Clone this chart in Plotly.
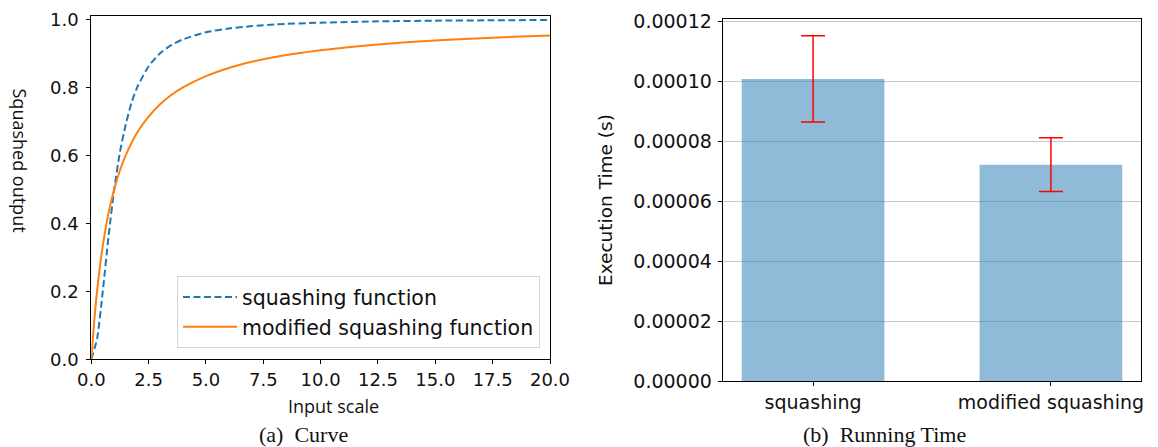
import plotly.graph_objects as go

# ---------------- data ----------------
# (a) Curve
blue_x = [0, 0.25, 0.5, 0.75, 1, 1.25, 1.5, 1.75, 2, 2.5, 3, 3.5, 4, 5, 6, 7, 8, 10, 12.5, 15, 17.5, 20]
blue_y = [0, 0.06, 0.2, 0.36, 0.5, 0.61, 0.69, 0.754, 0.8, 0.862, 0.9, 0.925, 0.941, 0.962, 0.973, 0.98, 0.985,
          0.99, 0.994, 0.996, 0.997, 0.998]
orange_x = [0, 0.1, 0.25, 0.5, 0.75, 1, 1.25, 1.5, 2, 2.5, 3, 3.5, 4, 5, 6, 7, 8, 10, 12.5, 15, 17.5, 20]
orange_y = [0, 0.09, 0.2, 0.333, 0.43, 0.5, 0.556, 0.6, 0.667, 0.714, 0.75, 0.778, 0.8, 0.833, 0.857, 0.875,
            0.889, 0.909, 0.926, 0.938, 0.946, 0.952]
series_names = ["squashing function", "modified squashing function"]
x_ticks = [0, 2.5, 5, 7.5, 10, 12.5, 15, 17.5, 20]
y_ticks_left = [0, 0.2, 0.4, 0.6, 0.8, 1.0]

# (b) Running Time
categories = ["squashing", "modified squashing"]
exec_time = [0.0001008, 0.0000722]
exec_err = [0.0000144, 0.0000090]
y_ticks_right = [0, 0.00002, 0.00004, 0.00006, 0.00008, 0.00010, 0.00012]

# ---------------- layout helpers ----------------
# the page has an 8px body margin, so the figure is placed at (8, 8) in the window
PAGE_W, PAGE_H = 1158, 447
OFF = 8
W, H = PAGE_W - OFF, PAGE_H - OFF


def px(x):
    return (x - OFF) / W


def py(y):
    return (PAGE_H - y) / H


fig = go.Figure()

fig.add_trace(go.Scatter(
    x=blue_x, y=blue_y, mode="lines", name=series_names[0],
    line=dict(color="#1f77b4", width=2, dash="7px,3.5px", shape="spline", smoothing=0.6),
    xaxis="x", yaxis="y"))
fig.add_trace(go.Scatter(
    x=orange_x, y=orange_y, mode="lines", name=series_names[1],
    line=dict(color="#ff7f0e", width=2, shape="spline", smoothing=0.6),
    xaxis="x", yaxis="y"))

fig.add_trace(go.Bar(
    x=[0, 1], y=exec_time, width=0.6,
    marker=dict(color="rgba(31,119,180,0.5)", line=dict(width=0)),
    error_y=dict(type="data", array=exec_err, color="red", thickness=1.5, width=12),
    showlegend=False, xaxis="x2", yaxis="y2"))

axis_common = dict(showline=True, linecolor="black", linewidth=1, mirror=True,
                   ticks="outside", ticklen=4, tickcolor="black", tickwidth=1,
                   zeroline=False, automargin=False)
tick_font = dict(family="DejaVu Sans", size=18, color="#111111")

fig.update_layout(
    template="none",
    width=W, height=H,
    margin=dict(l=0, r=0, t=0, b=0, autoexpand=False),
    paper_bgcolor="white", plot_bgcolor="white",
    showlegend=True,
    xaxis=dict(domain=[px(91.3), px(550)], range=[0, 20], tickvals=x_ticks,
               ticktext=[f"{v:.1f}" for v in x_ticks], showgrid=False,
               tickfont=tick_font, anchor="y", **axis_common),
    yaxis=dict(domain=[py(359.3), py(16)], range=[0, 1.0097], tickvals=y_ticks_left,
               ticktext=[f"{v:.1f}" for v in y_ticks_left], showgrid=False,
               tickfont=tick_font, anchor="x", ticklabelstandoff=4, **axis_common),
    xaxis2=dict(domain=[px(722.7), px(1141.3)], range=[-0.38, 1.38], tickvals=[0, 1],
                ticktext=categories, showgrid=False,
                tickfont=dict(family="DejaVu Sans", size=19, color="#111111"),
                anchor="y2", **axis_common),
    yaxis2=dict(domain=[py(381), py(19.3)], range=[0, 0.0001207], tickvals=y_ticks_right,
                ticktext=[f"{v:.5f}" for v in y_ticks_right], showgrid=True,
                gridcolor="#c8c8c8", gridwidth=1,
                tickfont=dict(family="DejaVu Sans", size=19, color="#111111"),
                anchor="x2", ticklabelstandoff=2, **axis_common),
    legend=dict(x=px(540), y=py(348.3), xanchor="right", yanchor="bottom",
                bgcolor="white", bordercolor="#d6d6d6", borderwidth=1,
                font=dict(family="DejaVu Sans", size=20.5, color="#111111"),
                itemwidth=54, tracegroupgap=0),
)

annotations = [
    dict(text="Input scale", x=px(333.6), y=py(406), font=dict(family="Open Sans", size=18, color="#111111"),
         textangle=0),
    dict(text="Squashed output", x=px(19.5), y=py(160), font=dict(family="Open Sans", size=18, color="#111111"),
         textangle=90),
    dict(text="Execution Time (s)", x=px(605), y=py(200), font=dict(family="DejaVu Sans", size=18.5, color="#111111"),
         textangle=-90),
    dict(text="(a)\u00a0 Curve", x=px(303.6), y=py(434.5), font=dict(family="Liberation Serif", size=22, color="#111111"),
         textangle=0),
    dict(text="(b)\u00a0 Running Time", x=px(884.7), y=py(434.5), font=dict(family="Liberation Serif", size=22, color="#111111"),
         textangle=0),
]
for a in annotations:
    fig.add_annotation(xref="paper", yref="paper", xanchor="center", yanchor="middle",
                       showarrow=False, **a)

fig.write_html("out.html")
